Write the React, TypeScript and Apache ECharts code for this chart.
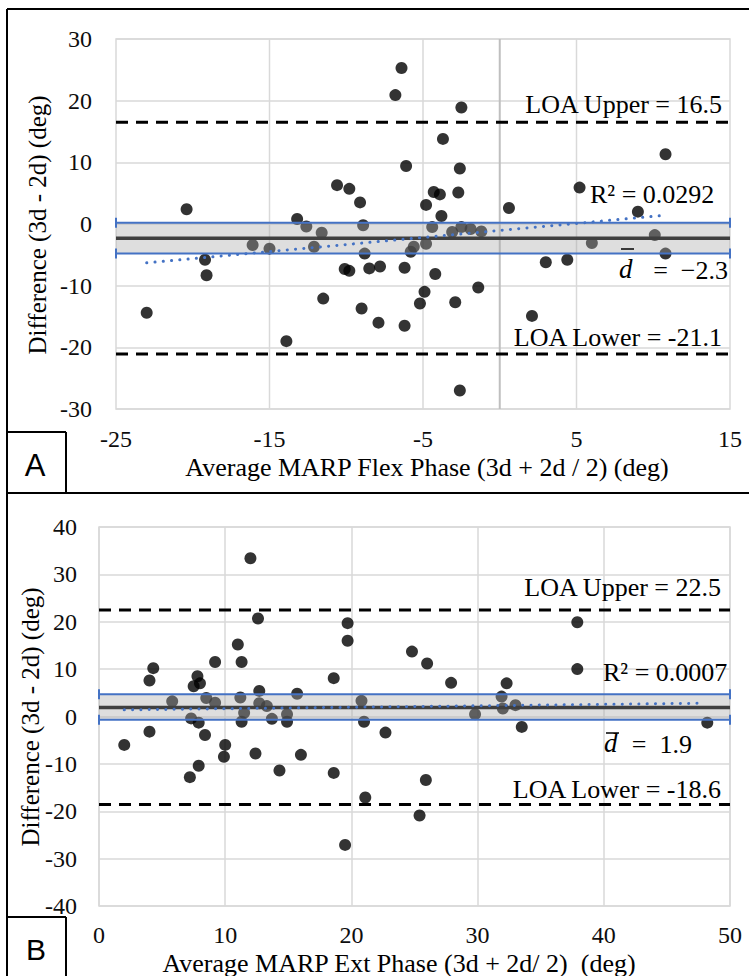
import React, { useEffect, useRef } from "react";
import * as echarts from "echarts";

// ---------- Panel A (Flex phase) ----------
const flexAvg = [
  -20.4, -23.0, -19.2, -19.1, -16.1, -15.0, -13.9, -13.2, -12.6, -11.6,
  -12.1, -11.5, -10.6, -9.8, -9.1, -8.9, -8.8, -10.1, -9.8, -8.5,
  -7.8, -9.0, -7.9, -6.1, -6.2, -6.2, -5.8, -5.6, -5.2, -4.9,
  -4.8, -4.8, -2.5, -3.7, -2.6, -4.3, -3.9, -2.7, -3.8, -4.4,
  -3.1, -2.5, -1.9, -1.2, -4.2, -2.9, -1.4, -2.6, 0.6, 3.0,
  4.4, 2.1, 5.2, 6.0, 9.0, 10.1, 10.8, 10.8, -6.4, -6.8,
];
const flexDiff = [
  2.4, -14.4, -5.8, -8.3, -3.4, -4.0, -19.0, 0.8, -0.4, -1.4,
  -3.7, -12.1, 6.3, 5.7, 3.5, -0.2, -4.8, -7.3, -7.6, -7.2,
  -6.9, -13.7, -16.0, 9.4, -7.1, -16.5, -4.5, -3.7, -12.9, -11.0,
  3.1, -3.2, 18.9, 13.8, 9.0, 5.2, 4.8, 5.1, 1.3, -0.5,
  -1.3, -0.5, -0.8, -1.2, -8.1, -12.7, -10.3, -27.0, 2.6, -6.2,
  -5.8, -14.9, 5.9, -3.1, 2.0, -1.8, 11.3, -4.8, 25.3, 20.9,
];
const flexXRange = [-25, 15];
const flexYRange = [-30, 30];
const flexLoa = [16.5, -21.1];
const flexMean = -2.3;
const flexCi = [0.2, -4.8];
const flexTrendX = [-23.0, 10.7];
const flexTrendY = [-6.3, 1.4];
const flexGridX = [-15, -5, 5];
const flexZeroX = [0];

// ---------- Panel B (Ext phase) ----------
const extAvg = [
  12.0, 12.6, 11.0, 11.3, 9.2, 4.3, 4.0, 7.8, 8.0, 7.5,
  5.8, 8.5, 9.2, 11.2, 12.7, 12.7, 13.3, 11.5, 11.3, 7.3,
  7.9, 4.0, 2.0, 8.4, 10.0, 9.9, 7.9, 7.2, 12.4, 13.7,
  14.9, 14.9, 15.7, 16.0, 14.3, 18.6, 18.6, 19.7, 19.7, 20.8,
  21.0, 22.7, 21.1, 24.8, 25.4, 19.5, 26.0, 27.9, 29.8, 31.9,
  32.0, 32.3, 33.0, 33.5, 37.9, 37.9, 48.2, 25.9,
];
const extDiff = [
  33.4, 20.7, 15.2, 11.5, 11.5, 10.2, 7.6, 8.5, 7.0, 6.4,
  3.2, 3.9, 2.9, 4.0, 5.4, 2.8, 2.2, 0.8, -1.1, -0.4,
  -1.3, -3.2, -6.0, -3.9, -6.0, -8.5, -10.4, -12.8, -7.8, -0.5,
  0.5, -1.1, 4.8, -8.1, -11.4, 8.1, -11.9, 19.7, 16.0, 3.3,
  -1.1, -3.4, -17.1, 13.7, -20.9, -27.1, 11.2, 7.1, 0.5, 4.2,
  1.7, 7.0, 2.4, -2.2, 19.9, 10.0, -1.3, -13.4,
];
const extXRange = [0, 50];
const extYRange = [-40, 40];
const extLoa = [22.5, -18.6];
const extMean = 1.9;
const extCi = [4.7, -0.7];
const extTrendX = [2.0, 47.8];
const extTrendY = [1.4, 2.8];

const BLUE = "#4472C4";
const GRID = "#d9d9d9";
const SERIF = "Liberation Serif";

function hline(i: number, xr: number[], v: number, lineStyle: any, extra: any = {}) {
  return {
    type: "line",
    xAxisIndex: i,
    yAxisIndex: i,
    data: [
      [xr[0], v],
      [xr[1], v],
    ],
    symbol: "none",
    lineStyle,
    z: 4,
    silent: true,
    animation: false,
    ...extra,
  };
}

function panelSeries(
  i: number,
  avg: number[],
  diff: number[],
  xr: number[],
  yr: number[],
  loa: number[],
  mean: number,
  ci: number[],
  tx: number[],
  ty: number[]
) {
  const s: any[] = [];
  s.push({
    type: "scatter",
    xAxisIndex: i,
    yAxisIndex: i,
    data: avg.map((x, k) => [x, diff[k]]),
    symbol: "circle",
    symbolSize: 12,
    itemStyle: { color: "#000" },
    z: 2,
    silent: true,
  });
  s.push({
    type: "custom",
    xAxisIndex: i,
    yAxisIndex: i,
    z: 3,
    silent: true,
    data: [[xr[0], xr[1], ci[1], ci[0]]],
    encode: { x: [0, 1], y: [2, 3] },
    renderItem: (_p: any, api: any) => {
      const a = api.coord([api.value(0), api.value(3)]);
      const b = api.coord([api.value(1), api.value(2)]);
      return {
        type: "rect",
        shape: { x: a[0], y: a[1], width: b[0] - a[0], height: b[1] - a[1] },
        style: { fill: "rgba(168,168,168,0.38)" },
      };
    },
  });
  s.push(hline(i, xr, mean, { color: "#3f3f3f", width: 3.5 }));
  const capStyle = {
    symbol: "rect",
    symbolSize: [2, 10],
    showSymbol: true,
    itemStyle: { color: BLUE },
  };
  s.push(hline(i, xr, ci[0], { color: BLUE, width: 2 }, capStyle));
  s.push(hline(i, xr, ci[1], { color: BLUE, width: 2 }, capStyle));
  s.push(hline(i, xr, loa[0], { color: "#000", width: 3, type: [12, 8] }));
  s.push(hline(i, xr, loa[1], { color: "#000", width: 3, type: [12, 8] }));
  s.push({
    type: "line",
    xAxisIndex: i,
    yAxisIndex: i,
    data: tx.map((x, k) => [x, ty[k]]),
    symbol: "none",
    lineStyle: { color: BLUE, width: 3, type: [0.1, 8.2], cap: "round" },
    z: 4,
    silent: true,
  });
  return s;
}

function vGrid(i: number, values: number[], yr: number[], color: string, width: number, z: number) {
  return {
    type: "custom",
    xAxisIndex: i,
    yAxisIndex: i,
    z,
    silent: true,
    data: values.map((v) => [v, yr[0], yr[1]]),
    encode: { x: 0, y: [1, 2] },
    renderItem: (_p: any, api: any) => {
      const a = api.coord([api.value(0), api.value(1)]);
      const b = api.coord([api.value(0), api.value(2)]);
      return {
        type: "line",
        shape: { x1: a[0], y1: a[1], x2: b[0], y2: b[1] },
        style: { stroke: color, lineWidth: width },
      };
    },
  };
}

function txt(text: string, x: number, y: number, align: string, size = 26, extra: any = {}) {
  return {
    type: "text",
    x,
    y,
    silent: true,
    z: 100,
    style: {
      text,
      fill: "#000",
      fontFamily: SERIF,
      fontSize: size,
      align,
      verticalAlign: "middle",
      ...extra,
    },
  };
}

function ln(x1: number, y1: number, x2: number, y2: number, w = 2) {
  return {
    type: "line",
    silent: true,
    z: 100,
    shape: { x1, y1, x2, y2 },
    style: { stroke: "#000", lineWidth: w },
  };
}

export default function App() {
  const ref = useRef<HTMLDivElement>(null);
  useEffect(() => {
    if (!ref.current) return;
    const chart = echarts.init(ref.current, undefined, { renderer: "svg" });
    const axisLabel = { fontFamily: SERIF, fontSize: 24, color: "#0d0d0d" };
    const splitLine = { show: true, lineStyle: { color: GRID, width: 1.5 } };
    const option: any = {
      animation: false,
      backgroundColor: "#fff",
      grid: [
        { left: 116, top: 39, width: 614, height: 370, show: true, borderColor: GRID, borderWidth: 1.5 },
        { left: 99, top: 527, width: 631, height: 379, show: true, borderColor: GRID, borderWidth: 1.5 },
      ],
      xAxis: [
        {
          type: "value",
          gridIndex: 0,
          min: flexXRange[0],
          max: flexXRange[1],
          interval: 5,
          axisLine: { show: false },
          axisTick: { show: false },
          splitLine: { show: false },
          axisLabel: {
            ...axisLabel,
            margin: 18,
            formatter: (v: number) => (Math.round(v - flexXRange[0]) % 10 === 0 ? String(v) : ""),
          },
        },
        {
          type: "value",
          gridIndex: 1,
          min: extXRange[0],
          max: extXRange[1],
          interval: 10,
          axisLine: { show: false },
          axisTick: { show: false },
          splitLine,
          axisLabel: { ...axisLabel, margin: 17 },
        },
      ],
      yAxis: [
        {
          type: "value",
          gridIndex: 0,
          min: flexYRange[0],
          max: flexYRange[1],
          interval: 10,
          axisLine: { show: false },
          axisTick: { show: false },
          splitLine,
          axisLabel: { ...axisLabel, margin: 24 },
        },
        {
          type: "value",
          gridIndex: 1,
          min: extYRange[0],
          max: extYRange[1],
          interval: 10,
          axisLine: { show: false },
          axisTick: { show: false },
          splitLine,
          axisLabel: { ...axisLabel, margin: 22 },
        },
      ],
      series: [
        vGrid(0, flexGridX, flexYRange, GRID, 1.5, 1),
        vGrid(0, flexZeroX, flexYRange, "#bfbfbf", 2, 1),
        ...panelSeries(0, flexAvg, flexDiff, flexXRange, flexYRange, flexLoa, flexMean, flexCi, flexTrendX, flexTrendY),
        ...panelSeries(1, extAvg, extDiff, extXRange, extYRange, extLoa, extMean, extCi, extTrendX, extTrendY),
      ],
      graphic: [
        // frame
        ln(7, 9, 7, 976),
        ln(7, 9, 749, 9),
        ln(7, 493, 749, 493),
        ln(7, 432, 66, 432),
        ln(66, 432, 66, 493),
        ln(7, 917, 66, 917),
        ln(66, 917, 66, 976),
        txt("A", 35, 465, "center", 31, { fontFamily: "Liberation Sans" }),
        txt("B", 36, 949, "center", 30, { fontFamily: "Liberation Sans" }),
        // axis titles
        txt("Average MARP Flex Phase (3d + 2d / 2) (deg)", 427, 467, "center", 26),
        txt("Average MARP Ext Phase (3d + 2d/ 2)\u00a0 (deg)", 399, 963, "center", 26),
        { ...txt("Difference (3d - 2d) (deg)", 37, 225, "center", 25), rotation: Math.PI / 2 },
        { ...txt("Difference (3d - 2d) (deg)", 30, 717, "center", 25), rotation: Math.PI / 2 },
        // panel A annotations
        txt("LOA Upper = 16.5", 722, 104, "right"),
        txt("R\u00b2 = 0.0292", 590, 194, "left"),
        txt("d", 619, 269, "left", 27, { fontStyle: "italic" }),
        ln(621, 249, 634, 249, 1.5),
        txt("=  \u22122.3", 728, 270, "right", 26),
        txt("LOA Lower = -21.1", 722, 337, "right"),
        // panel B annotations
        txt("LOA Upper = 22.5", 721, 587, "right"),
        txt("R\u00b2 = 0.0007", 603, 672, "left"),
        txt("d", 604, 743, "left", 27, { fontStyle: "italic" }),
        ln(606, 733, 619, 733, 1.5),
        txt("=  1.9", 692, 744, "right", 26),
        txt("LOA Lower = -18.6", 721, 789, "right"),
      ],
    };
    chart.setOption(option);
    return () => chart.dispose();
  }, []);
  return (
    <div
      ref={ref}
      style={{ position: "fixed", left: 0, top: 0, width: 749, height: 976, background: "#fff" }}
    />
  );
}
